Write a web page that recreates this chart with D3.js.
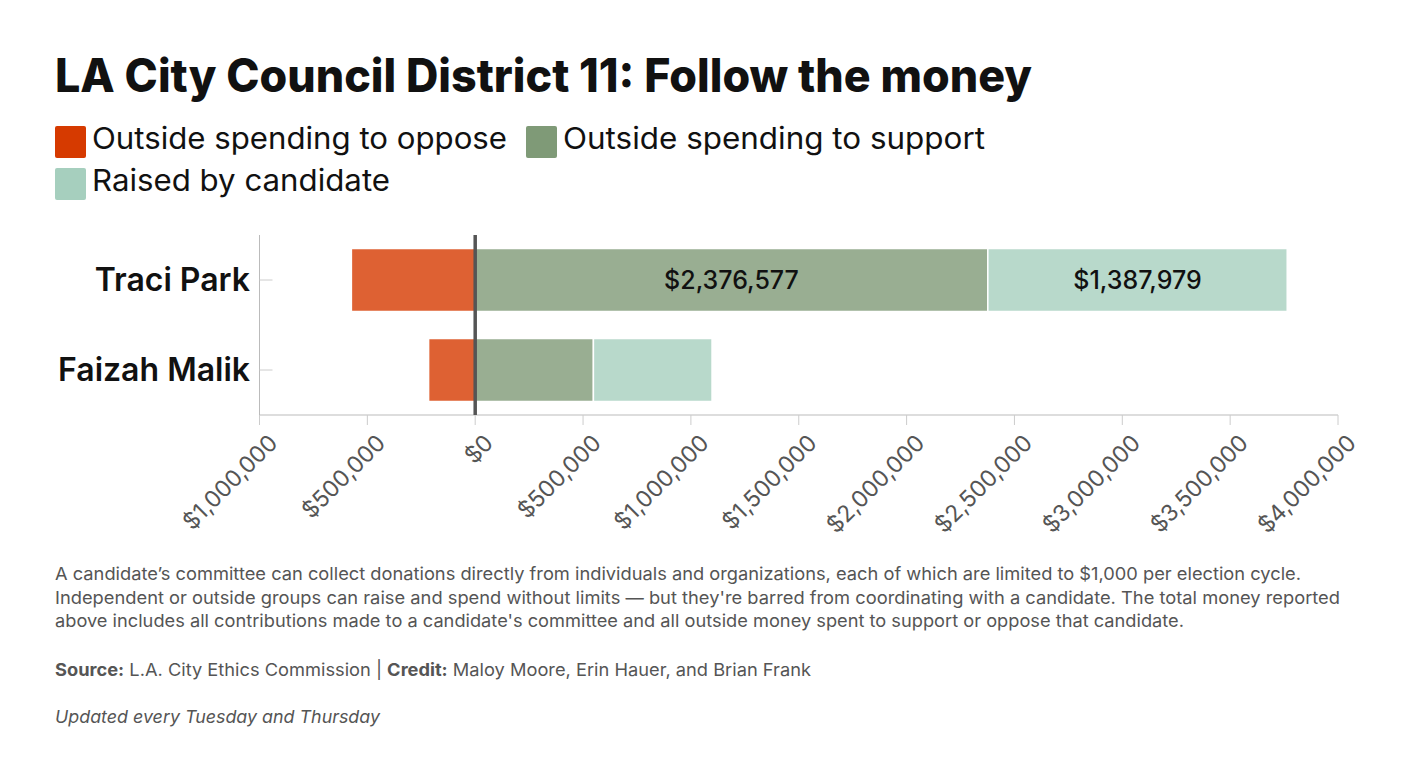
<!DOCTYPE html>
<html>
<head>
    <meta charset="utf-8">
    <title>LA City Council District 11: Follow the money</title>
    <script src="https://d3js.org/d3.v7.min.js"></script>
    <style>
        body { margin: 0; background: #fff; }
        svg { display: block; font-family: Inter, Roboto, "Noto Sans", sans-serif; }
    </style>
</head>
<body>
    <svg id="chart" width="1428" height="774"></svg>

    <script>
        // data
        const candidates = ["Traci Park", "Faizah Malik"];
        const oppose = [574000, 216000];
        const support = [2376577, 548000];
        const raised = [1387979, 550000];
        const xTicks = [-1000000, -500000, 0, 500000, 1000000, 1500000, 2000000, 2500000, 3000000, 3500000, 4000000];

        const seriesNames = ["Outside spending to oppose", "Outside spending to support", "Raised by candidate"];
        const seriesColors = ["#d63a00", "#7f9a77", "#a6cfbe"];

        const footerLines = [
            "A candidate\u2019s committee can collect donations directly from individuals and organizations, each of which are limited to $1,000 per election cycle.",
            "Independent or outside groups can raise and spend without limits \u2014 but they're barred from coordinating with a candidate. The total money reported",
            "above includes all contributions made to a candidate's committee and all outside money spent to support or oppose that candidate."
        ];

        const svg = d3.select("svg#chart");

        // helper: squeeze/stretch text to a measured width
        function fitText(sel, w) {
            sel.attr("textLength", w).attr("lengthAdjust", "spacingAndGlyphs");
        }

        // title
        svg.append("text")
            .attr("x", 55)
            .attr("y", 92)
            .style("font-size", "46px")
            .style("font-weight", 800)
            .style("fill", "#111")
            .text("LA City Council District 11: Follow the money")
            .call(fitText, 977);

        // legend
        const legendWidths = [415, 422, 298];
        const legendPos = [[55, 126], [526, 126], [55, 168]];
        seriesNames.forEach((name, i) => {
            const lg = svg.append("g").attr("transform", "translate(" + legendPos[i][0] + "," + legendPos[i][1] + ")");
            lg.append("rect")
                .attr("width", 31)
                .attr("height", 32)
                .attr("rx", 2)
                .attr("fill", seriesColors[i]);
            lg.append("text")
                .attr("x", 37)
                .attr("y", 23)
                .style("font-size", "30px")
                .style("fill", "#111")
                .text(name)
                .call(fitText, legendWidths[i]);
        });

        // scales
        const x = d3.scaleLinear().domain([-1000000, 4000000]).range([259.5, 1338]);
        const y = d3.scaleBand().domain(candidates).range([235, 415]).paddingInner(0.3).paddingOuter(0.15);

        const rows = candidates.map((c, i) => ({
            name: c,
            segs: [
                { key: 0, x0: -oppose[i], x1: 0 },
                { key: 1, x0: 0, x1: support[i], value: support[i] },
                { key: 2, x0: support[i], x1: support[i] + raised[i], value: raised[i] }
            ]
        }));

        const g = svg.append("g");

        // axis lines
        g.append("line")
            .attr("x1", x.range()[0]).attr("x2", x.range()[0])
            .attr("y1", 235).attr("y2", 415)
            .attr("stroke", "#bbb");
        g.append("line")
            .attr("x1", x.range()[0]).attr("x2", x.range()[1])
            .attr("y1", 415).attr("y2", 415)
            .attr("stroke", "#bbb");

        // y ticks + labels
        g.selectAll(".ytick")
            .data(candidates)
            .join("line")
            .attr("class", "ytick")
            .attr("x1", x.range()[0]).attr("x2", x.range()[0] + 13)
            .attr("y1", d => y(d) + y.bandwidth() / 2)
            .attr("y2", d => y(d) + y.bandwidth() / 2)
            .attr("stroke", "#ccc");

        g.selectAll(".ylabel")
            .data(candidates)
            .join("text")
            .attr("class", "ylabel")
            .attr("x", 250)
            .attr("y", d => y(d) + y.bandwidth() / 2 + 11)
            .attr("text-anchor", "end")
            .style("font-size", "32px")
            .style("font-weight", 600)
            .style("fill", "#111")
            .text(d => d);

        // x ticks + labels
        g.selectAll(".xtick")
            .data(xTicks)
            .join("line")
            .attr("class", "xtick")
            .attr("x1", d => x(d)).attr("x2", d => x(d))
            .attr("y1", 415).attr("y2", 425)
            .attr("stroke", "#ccc");

        g.selectAll(".xlabel")
            .data(xTicks)
            .join("text")
            .attr("class", "xlabel")
            .attr("transform", d => "translate(" + (x(d) + 8) + ",433) rotate(-45)")
            .attr("text-anchor", "end")
            .attr("dy", "0.7em")
            .style("font-size", "23px")
            .style("fill", "#555")
            .text(d => "$" + d3.format(",")(Math.abs(d)));

        // bars
        const rowG = g.selectAll(".row")
            .data(rows)
            .join("g")
            .attr("class", "row")
            .attr("transform", d => "translate(0," + y(d.name) + ")");

        rowG.selectAll("rect")
            .data(d => d.segs)
            .join("rect")
            .attr("x", d => x(d.x0))
            .attr("width", d => x(d.x1) - x(d.x0))
            .attr("height", y.bandwidth())
            .attr("fill", d => seriesColors[d.key])
            .attr("fill-opacity", 0.8)
            .attr("stroke", "#fff")
            .attr("stroke-width", 1.5);

        // values inside the wide segments
        rowG.selectAll(".val")
            .data(d => d.segs.filter(s => s.value && x(s.x1) - x(s.x0) > 200))
            .join("text")
            .attr("class", "val")
            .attr("x", d => (x(d.x0) + x(d.x1)) / 2)
            .attr("y", y.bandwidth() / 2 + 9)
            .attr("text-anchor", "middle")
            .style("font-size", "25px")
            .style("font-weight", 500)
            .style("fill", "#111")
            .text(d => "$" + d3.format(",")(d.value));

        // zero line
        g.append("line")
            .attr("x1", x(0)).attr("x2", x(0))
            .attr("y1", 235).attr("y2", 415)
            .attr("stroke", "#555")
            .attr("stroke-width", 3.5);

        // footer notes
        const footerWidths = [1246, 1285, 1129];
        footerLines.forEach((line, i) => {
            svg.append("text")
                .attr("x", 55)
                .attr("y", 580 + i * 23.5)
                .style("font-size", "17.5px")
                .style("fill", "#555")
                .text(line)
                .call(fitText, footerWidths[i]);
        });

        const src = svg.append("text")
            .attr("x", 55)
            .attr("y", 676)
            .style("font-size", "17.5px")
            .style("fill", "#555");
        src.append("tspan").style("font-weight", 700).text("Source:");
        src.append("tspan").text(" L.A. City Ethics Commission | ");
        src.append("tspan").style("font-weight", 700).text("Credit:");
        src.append("tspan").text(" Maloy Moore, Erin Hauer, and Brian Frank");
        src.call(fitText, 756);

        svg.append("text")
            .attr("x", 55)
            .attr("y", 723)
            .style("font-size", "17.5px")
            .style("font-style", "italic")
            .style("fill", "#555")
            .text("Updated every Tuesday and Thursday")
            .call(fitText, 325);
    </script>
</body>
</html>
